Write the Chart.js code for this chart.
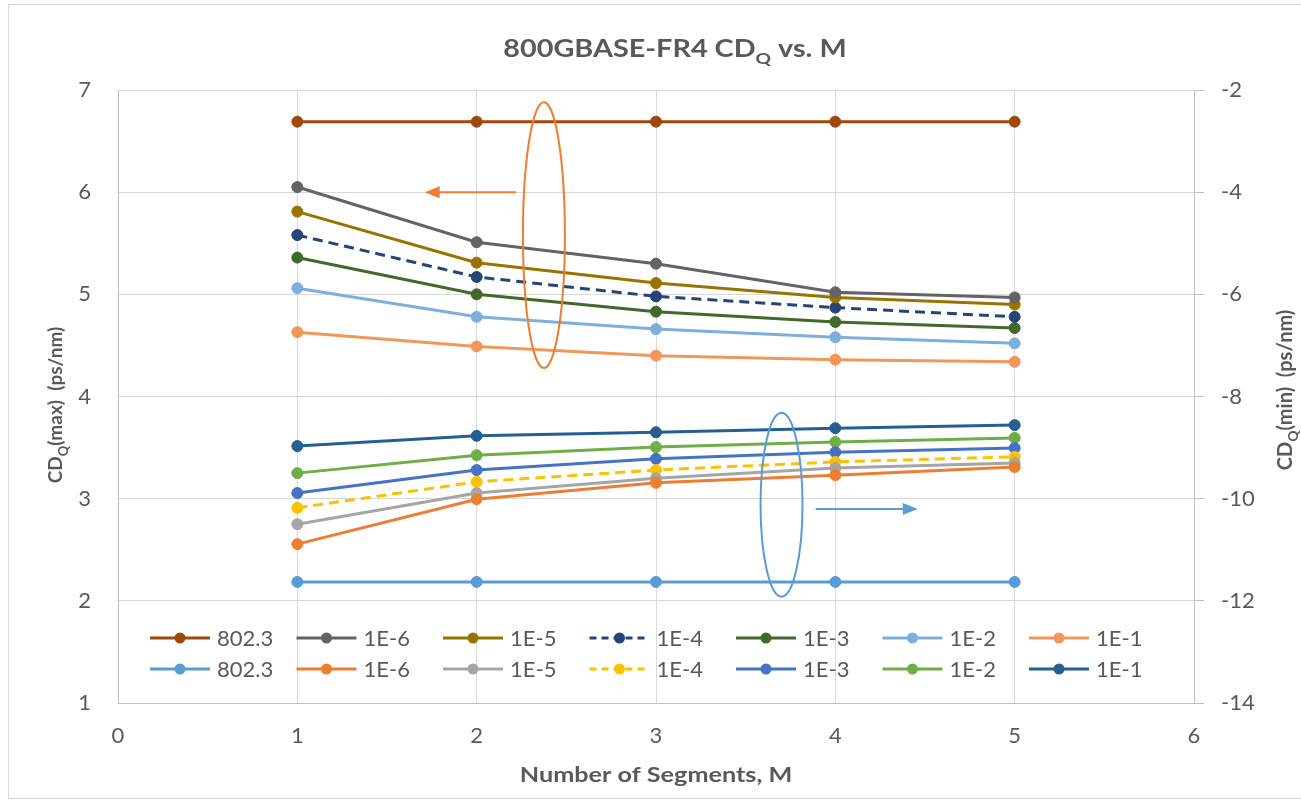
<!DOCTYPE html>
<html lang="en">
<head>
  <meta charset="UTF-8">
  <title>800GBASE-FR4 CDQ vs. M</title>
  <script src="https://cdn.jsdelivr.net/npm/chart.js"></script>
  <style>
    html, body { margin: 0; padding: 0; background: #fff; overflow: hidden; }
    .chart-container { position: relative; width: 1301px; height: 801px; }
  </style>
</head>
<body>
  <div class="chart-container">
    <canvas id="cdqChart"></canvas>
  </div>

  <script>
    // Number of segments (x values)
    const segments = [1, 2, 3, 4, 5];
    const seriesNames = ['802.3', '1E-6', '1E-5', '1E-4', '1E-3', '1E-2', '1E-1'];

    // CDQ(max), left axis (ps/nm)
    const max8023 = [6.69, 6.69, 6.69, 6.69, 6.69];
    const max1e6 = [6.05, 5.51, 5.30, 5.02, 4.97];
    const max1e5 = [5.81, 5.31, 5.11, 4.97, 4.90];
    const max1e4 = [5.58, 5.17, 4.98, 4.87, 4.78];
    const max1e3 = [5.36, 5.00, 4.83, 4.73, 4.67];
    const max1e2 = [5.06, 4.78, 4.66, 4.58, 4.52];
    const max1e1 = [4.63, 4.49, 4.40, 4.36, 4.34];

    // CDQ(min), right axis (ps/nm)
    const min8023 = [-11.63, -11.63, -11.63, -11.63, -11.63];
    const min1e6 = [-10.89, -10.01, -9.69, -9.54, -9.38];
    const min1e5 = [-10.50, -9.89, -9.60, -9.40, -9.30];
    const min1e4 = [-10.18, -9.67, -9.44, -9.28, -9.18];
    const min1e3 = [-9.89, -9.44, -9.22, -9.09, -9.01];
    const min1e2 = [-9.50, -9.15, -8.99, -8.89, -8.81];
    const min1e1 = [-8.97, -8.77, -8.70, -8.62, -8.56];

    const maxColors = ['#9E480E', '#636363', '#997300', '#264478', '#43682B', '#7CAFDD', '#F1975A'];
    const minColors = ['#5B9BD5', '#ED7D31', '#A5A5A5', '#FFC000', '#4472C4', '#70AD47', '#255E91'];

    const maxSeries = [max8023, max1e6, max1e5, max1e4, max1e3, max1e2, max1e1];
    const minSeries = [min8023, min1e6, min1e5, min1e4, min1e3, min1e2, min1e1];

    const FONT = 'Lato, "Open Sans", sans-serif';
    const TEXT = '#595959';

    function makeSet(values, name, color, axis) {
      const dashed = name === '1E-4';
      return {
        label: name,
        data: values.map((v, i) => ({ x: segments[i], y: v })),
        yAxisID: axis,
        borderColor: color,
        backgroundColor: color,
        pointBackgroundColor: color,
        pointBorderColor: color,
        borderWidth: 3,
        borderDash: dashed ? [10, 6] : [],
        pointRadius: 5.5,
        pointBorderWidth: 1,
        tension: 0
      };
    }

    const datasets = [
      ...maxSeries.map((v, i) => makeSet(v, seriesNames[i], maxColors[i], 'y')),
      ...minSeries.map((v, i) => makeSet(v, seriesNames[i], minColors[i], 'y2'))
    ];

    // draws text with a subscript part, optionally rotated / stretched
    function drawRich(ctx, parts, x, y, size, rotate, stretch) {
      ctx.save();
      ctx.translate(x, y);
      if (rotate) ctx.rotate(-Math.PI / 2);
      if (stretch) ctx.scale(stretch, 1);
      const fontOf = p => 'bold ' + (p.sub ? Math.round(size * 0.68) : size) + 'px ' + FONT;
      const widths = parts.map(p => { ctx.font = fontOf(p); return ctx.measureText(p.text).width; });
      let cx = -widths.reduce((a, b) => a + b, 0) / 2;
      ctx.fillStyle = TEXT;
      ctx.textAlign = 'left';
      ctx.textBaseline = 'alphabetic';
      parts.forEach((p, i) => {
        ctx.font = fontOf(p);
        ctx.fillText(p.text, cx, p.sub ? size * 0.3 : 0);
        cx += widths[i];
      });
      ctx.restore();
    }

    // callouts: ellipse + arrow, given in data units
    const callouts = [
      { axis: 'y', color: '#ED7D31', cx: 2.375, cy: 5.58, rx: 0.117, ry: 1.30, from: [2.22, 6.0], to: [1.71, 6.0] },
      { axis: 'y2', color: '#5B9BD5', cx: 3.70, cy: -10.12, rx: 0.117, ry: 1.80, from: [3.89, -10.2], to: [4.46, -10.2] }
    ];

    const decorations = {
      id: 'decorations',
      beforeDraw(chart) {
        const ctx = chart.ctx;
        ctx.save();
        ctx.fillStyle = '#fff';
        ctx.fillRect(0, 0, chart.width, chart.height);
        ctx.strokeStyle = '#D9D9D9';
        ctx.lineWidth = 1;
        ctx.strokeRect(8.5, 4.5, 1300, 794);
        ctx.restore();
      },
      afterDatasetsDraw(chart) {
        const ctx = chart.ctx;
        const xs = chart.scales.x;
        callouts.forEach(c => {
          const ys = chart.scales[c.axis];
          const px = xs.getPixelForValue(c.cx);
          const py = ys.getPixelForValue(c.cy);
          const rx = Math.abs(xs.getPixelForValue(c.cx + c.rx) - px);
          const ry = Math.abs(ys.getPixelForValue(c.cy + c.ry) - py);
          ctx.save();
          ctx.strokeStyle = c.color;
          ctx.fillStyle = c.color;
          ctx.lineWidth = 2;
          ctx.beginPath();
          ctx.ellipse(px, py, rx, ry, 0, 0, Math.PI * 2);
          ctx.stroke();
          const x1 = xs.getPixelForValue(c.from[0]), y1 = ys.getPixelForValue(c.from[1]);
          const x2 = xs.getPixelForValue(c.to[0]), y2 = ys.getPixelForValue(c.to[1]);
          const dir = Math.sign(x2 - x1);
          ctx.beginPath();
          ctx.moveTo(x1, y1);
          ctx.lineTo(x2 - dir * 12, y2);
          ctx.stroke();
          ctx.beginPath();
          ctx.moveTo(x2, y2);
          ctx.lineTo(x2 - dir * 15, y2 - 6);
          ctx.lineTo(x2 - dir * 15, y2 + 6);
          ctx.closePath();
          ctx.fill();
          ctx.restore();
        });
      },
      afterDraw(chart) {
        const ctx = chart.ctx;
        const area = chart.chartArea;

        // legend, two rows of seven, drawn over the plot
        chart.data.datasets.forEach((ds, i) => {
          const row = Math.floor(i / 7), col = i % 7;
          const x0 = area.left + 32 + col * 146.5;
          const y = area.bottom - 65 + row * 31;
          ctx.save();
          ctx.strokeStyle = ds.borderColor;
          ctx.lineWidth = 3;
          ctx.setLineDash(ds.borderDash.length ? [7, 5] : []);
          ctx.beginPath();
          ctx.moveTo(x0, y);
          ctx.lineTo(x0 + 60, y);
          ctx.stroke();
          ctx.setLineDash([]);
          ctx.fillStyle = ds.borderColor;
          ctx.beginPath();
          ctx.arc(x0 + 30, y, 5.5, 0, Math.PI * 2);
          ctx.fill();
          ctx.fillStyle = TEXT;
          ctx.font = '22px ' + FONT;
          ctx.textBaseline = 'middle';
          ctx.fillText(ds.label, x0 + 67, y + 1);
          ctx.restore();
        });

        // titles with subscripts
        drawRich(ctx, [{ text: '800GBASE-FR4 CD' }, { text: 'Q', sub: true }, { text: ' vs. M' }], 675, 57, 24, false, 1.2);
        drawRich(ctx, [{ text: 'CD' }, { text: 'Q', sub: true }, { text: '(max)  (ps/nm)' }], 62, 405, 19, true);
        drawRich(ctx, [{ text: 'CD' }, { text: 'Q', sub: true }, { text: '(min)  (ps/nm)' }], 1292, 390, 20, true);
        drawRich(ctx, [{ text: 'Number of Segments, M' }], (area.left + area.right) / 2, 782, 21, false, 1.2);
      }
    };

    const ctx = document.getElementById('cdqChart').getContext('2d');
    new Chart(ctx, {
      type: 'line',
      data: { datasets },
      plugins: [decorations],
      options: {
        responsive: true,
        maintainAspectRatio: false,
        animation: false,
        layout: { padding: { top: 90, left: 0, right: 0, bottom: 0 } },
        plugins: {
          legend: { display: false },
          title: { display: false },
          tooltip: { enabled: false }
        },
        scales: {
          x: {
            type: 'linear',
            min: 0,
            max: 6,
            ticks: { stepSize: 1, color: TEXT, font: { family: FONT, size: 22 }, padding: 20 },
            grid: { color: '#D9D9D9', drawTicks: false },
            border: { color: '#BFBFBF' },
            afterFit: s => { s.height = 98; }
          },
          y: {
            position: 'left',
            min: 1,
            max: 7,
            ticks: { stepSize: 1, color: TEXT, font: { family: FONT, size: 22 }, padding: 27 },
            grid: { color: '#D9D9D9', drawTicks: false },
            border: { color: '#BFBFBF' },
            afterFit: s => { s.width = 118; }
          },
          y2: {
            position: 'right',
            min: -14,
            max: -2,
            ticks: { stepSize: 2, color: TEXT, font: { family: FONT, size: 22 }, padding: 17 },
            grid: { drawOnChartArea: false, drawTicks: true, tickLength: 10, color: '#BFBFBF' },
            border: { color: '#BFBFBF' },
            afterFit: s => { s.width = 107; }
          }
        }
      }
    });
  </script>
</body>
</html>
